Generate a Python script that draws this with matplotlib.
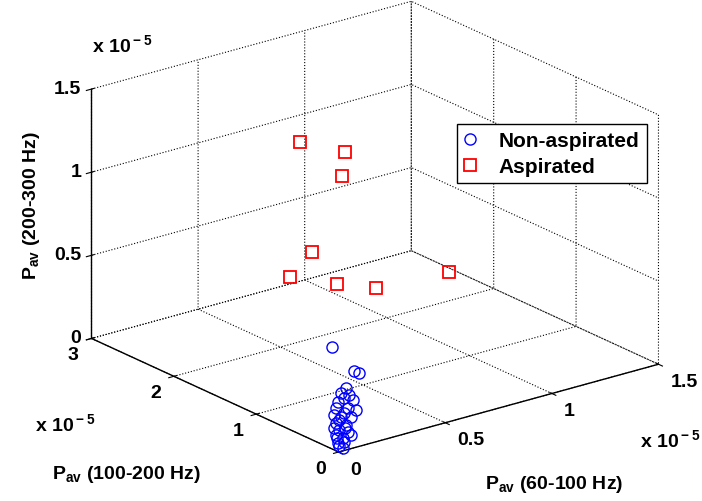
import numpy as np
import matplotlib
matplotlib.use('Agg')
import matplotlib.pyplot as plt
from mpl_toolkits.mplot3d import proj3d

# values in units of 1e-5
# Pav (60-100 Hz), Pav (100-200 Hz), Pav (200-300 Hz)
non_asp_x = [0.087, 0.187, 0.21, 0.071, 0.048, 0.104, 0.034, 0.062, 0.118, 0.024,
             0.081, 0.048, 0.095, 0.024, 0.071, 0.039, 0.081, 0.024, 0.057, 0.034,
             0.062, 0.019, 0.026, 0.015, 0.095, 0.039, 0.062, 0.015, 0.086, 0.067,
             0.029]
non_asp_y = [0.30, 0.30, 0.30, 0.10, 0.10, 0.10, 0.10, 0.10, 0.10, 0.10,
             0.10, 0.10, 0.10, 0.10, 0.10, 0.10, 0.10, 0.10, 0.10, 0.10,
             0.10, 0.05, 0.02, 0.10, 0.10, 0.10, 0.10, 0.10, 0.10, 0.10,
             0.10]
non_asp_z = [0.534, 0.351, 0.33, 0.337, 0.315, 0.252, 0.266, 0.28, 0.187, 0.233,
             0.213, 0.17, 0.154, 0.143, 0.114, 0.096, 0.068, 0.07, 0.041, 0.019,
             0.015, 0.017, 0.01, 0.116, 0.045, 0.156, 0.19, 0.195, 0.29, 0.098,
             0.051]

asp_x = [0.59, 0.61, 0.595, 0.454, 0.35, 0.571, 0.755, 1.05]
asp_y = [2.0, 1.5, 1.5, 1.5, 1.5, 1.5, 1.5, 1.375]
asp_z = [1.2, 1.25, 1.11, 0.70, 0.587, 0.47, 0.38, 0.40]

x_ticks = [0, 0.5, 1, 1.5]
y_ticks = [0, 1, 2, 3]
z_ticks = [0, 0.5, 1, 1.5]
x_labels = ['0', '0.5', '1', '1.5']
y_labels = ['0', '1', '2', '3']
z_labels = ['0', '0.5', '1', '1.5']

plt.rcParams['font.family'] = ['Liberation Sans', 'DejaVu Sans']
plt.rcParams['font.weight'] = 'bold'
plt.rcParams['mathtext.fontset'] = 'custom'
plt.rcParams['mathtext.rm'] = 'Liberation Sans:bold'
plt.rcParams['grid.color'] = 'black'
plt.rcParams['grid.linestyle'] = ':'
plt.rcParams['grid.linewidth'] = 0.8

FS = 14

fig = plt.figure(figsize=(7.02, 5.02), dpi=100)
ax = fig.add_axes([0.167, 0.033, 0.715, 1.0], projection='3d', proj_type='ortho')
ax.view_init(elev=20.8, azim=-127.7)
ax.set_box_aspect((1, 1, 0.66), zoom=1.22)

ax.plot(non_asp_x, non_asp_y, non_asp_z, 'o', mfc='none', mec='blue', ms=8, mew=1,
        label='Non-aspirated')
ax.plot(asp_x, asp_y, asp_z, 's', mfc='none', mec='red', ms=8, mew=1.3,
        label='Aspirated')

ax.set_xlim(0, 1.5)
ax.set_ylim(0, 3)
ax.set_zlim(0, 1.5)
ax.set_xticks(x_ticks)
ax.set_yticks(y_ticks)
ax.set_zticks(z_ticks)
ax.set_xticklabels([])
ax.set_yticklabels([])
ax.set_zticklabels([])
for a in (ax.xaxis, ax.yaxis, ax.zaxis):
    a.set_pane_color((1, 1, 1, 0))
    a.pane.set_edgecolor('none')
    a.line.set_color('black')
    a.line.set_linewidth(1.0)

# tick labels placed MATLAB-style next to the projected tick positions
fig.canvas.draw()


def tick_label(lbl, x, y, z, dx, dy, ha):
    xs, ys, _ = proj3d.proj_transform(x, y, z, ax.M)
    px, py = ax.transData.transform((xs, ys))
    ax.annotate(lbl, xy=(px, py), xycoords='figure pixels', xytext=(dx, dy),
                textcoords='offset pixels', ha=ha, va='center', fontsize=FS,
                annotation_clip=False)


for t, lbl in zip(x_ticks, x_labels):
    tick_label(lbl, t, 0, 0, 12, -17, 'left')
for t, lbl in zip(y_ticks, y_labels):
    tick_label(lbl, 0, t, 0, -13, -16, 'right')
for t, lbl in zip(z_ticks, z_labels):
    tick_label(lbl, 0, 3, t, -10, 1, 'right')

fig.text(0.79, 0.026, r'P$_{\rm av}$ (60-100 Hz)', fontsize=FS, ha='center')
fig.text(0.074, 0.045, r'P$_{\rm av}$ (100-200 Hz)', fontsize=FS, ha='left')
fig.text(0.045, 0.59, r'P$_{\rm av}$ (200-300 Hz)', fontsize=FS, rotation=90,
         ha='center', va='center')
fig.text(0.131, 0.895, r'x 10$^{\rm -5}$', fontsize=FS)
fig.text(0.05, 0.14, r'x 10$^{\rm -5}$', fontsize=FS)
fig.text(0.912, 0.108, r'x 10$^{\rm -5}$', fontsize=FS)

ax.legend(loc='upper left', bbox_to_anchor=(0.651, 0.751), bbox_transform=fig.transFigure,
          fancybox=False, edgecolor='black', framealpha=1, fontsize=15,
          handletextpad=1.15, borderpad=0.35, handlelength=0.5, borderaxespad=0,
          labelspacing=0.33)

fig.savefig('out.png', dpi=100)
